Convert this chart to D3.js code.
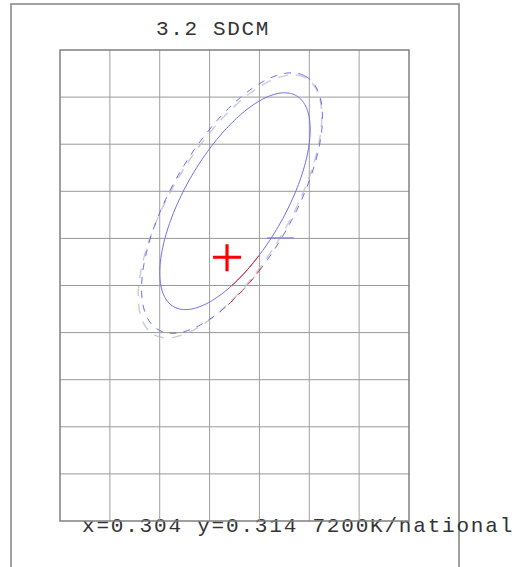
<!DOCTYPE html>
<html>
<head>
<meta charset="utf-8">
<script src="https://cdn.jsdelivr.net/npm/d3@7/dist/d3.min.js"></script>
<style>
  html, body { margin: 0; padding: 0; background: #ffffff; }
  svg { display: block; }
</style>
</head>
<body>
<svg></svg>
<script>
const WIDTH = 525;
const HEIGHT = 567;

const TITLE = "3.2 SDCM";
const CAPTION = "x=0.304 y=0.314 7200K/national";

// grid lines (CIE 1931 x, y)
const X_GRID = [0.30065, 0.30165, 0.30265, 0.30365, 0.30465, 0.30565, 0.30665, 0.30765];
const Y_GRID = [0.3084, 0.3094, 0.3104, 0.3114, 0.3124, 0.3134, 0.3144, 0.3154, 0.3164, 0.3174, 0.3184];

// measured chromaticity
const POINT = [0.304, 0.314];

// ellipses: outer (grey dashed), tolerance (blue dashed), inner (blue solid)
const ELLIPSE_NAMES = ["outer", "tolerance", "inner"];
const ELLIPSE_CX = [0.30406, 0.30410, 0.30416];
const ELLIPSE_CY = [0.31508, 0.31515, 0.31519];
const ELLIPSE_A = [0.00312, 0.00307, 0.002556];
const ELLIPSE_B = [0.00120, 0.00123, 0.00102];
const ELLIPSE_ANGLE = [61, 61.7, 61.7];

// part of each ellipse facing the point (angle from centre, degrees)
const NEAR_ARC = [-93, -66];

// stray horizontal stroke right of the point
const STRAY_X = [0.30480, 0.30534];
const STRAY_Y = [0.31441, 0.31441];

const FONT = "'Liberation Mono', 'Courier New', monospace";

function ellipsePoints(i) {
    const th = ELLIPSE_ANGLE[i] * Math.PI / 180;
    const pts = [];
    for (let k = 0; k <= 240; k++) {
        const t = k / 240 * 2 * Math.PI;
        const u = ELLIPSE_A[i] * Math.cos(t), v = ELLIPSE_B[i] * Math.sin(t);
        const px = ELLIPSE_CX[i] + u * Math.cos(th) - v * Math.sin(th);
        const py = ELLIPSE_CY[i] + u * Math.sin(th) + v * Math.cos(th);
        const ang = Math.atan2(py - ELLIPSE_CY[i], px - ELLIPSE_CX[i]) * 180 / Math.PI;
        pts.push({ x: px, y: py, near: ang >= NEAR_ARC[0] && ang <= NEAR_ARC[1] });
    }
    return pts;
}

function drawChart(svg) {
    svg.attr("width", WIDTH).attr("height", HEIGHT);

    const x = d3.scaleLinear()
        .domain([X_GRID[0], X_GRID[X_GRID.length - 1]])
        .range([60, 409]);
    const y = d3.scaleLinear()
        .domain([Y_GRID[0], Y_GRID[Y_GRID.length - 1]])
        .range([521, 50]);

    // outer frame
    svg.append("rect")
        .attr("x", 11).attr("y", 4)
        .attr("width", 448).attr("height", 600)
        .style("fill", "none")
        .style("stroke", "#8a8a8a")
        .style("stroke-width", "1.6px");

    svg.append("text")
        .attr("x", 156).attr("y", 34.5)
        .style("font-family", FONT)
        .style("font-size", "21px")
        .style("letter-spacing", "1.65px")
        .style("fill", "#333")
        .text(TITLE);

    svg.append("text")
        .attr("x", 82).attr("y", 532)
        .style("font-family", FONT)
        .style("font-size", "21px")
        .style("letter-spacing", "1.8px")
        .style("fill", "#333")
        .text(CAPTION);

    const grid = svg.append("g");
    grid.selectAll("line.v")
        .data(X_GRID.slice(1, -1))
        .enter().append("line")
        .attr("class", "v")
        .attr("x1", d => x(d)).attr("x2", d => x(d))
        .attr("y1", y.range()[0]).attr("y2", y.range()[1])
        .style("stroke", "#a0a0a0").style("stroke-width", "1px");
    grid.selectAll("line.h")
        .data(Y_GRID.slice(1, -1))
        .enter().append("line")
        .attr("class", "h")
        .attr("y1", d => y(d)).attr("y2", d => y(d))
        .attr("x1", x.range()[0]).attr("x2", x.range()[1])
        .style("stroke", "#999").style("stroke-width", "1px");
    grid.append("rect")
        .attr("x", x.range()[0]).attr("y", y.range()[1])
        .attr("width", x.range()[1] - x.range()[0])
        .attr("height", y.range()[0] - y.range()[1])
        .style("fill", "none")
        .style("stroke", "#808080")
        .style("stroke-width", "1.5px");

    const line = d3.line().x(d => x(d.x)).y(d => y(d.y));
    const styles = [
        { stroke: "#b8b8c4", dash: "10,8", width: 1.4, opacity: 0.75 },
        { stroke: "#5a5af0", dash: "7,7", width: 1, opacity: 0.9 },
        { stroke: "#6e6ee6", dash: null, width: 1, opacity: 1 }
    ];

    ELLIPSE_NAMES.forEach((name, i) => {
        const pts = ellipsePoints(i);
        const s = styles[i];
        svg.append("path")
            .datum(pts)
            .attr("class", "ellipse " + name)
            .attr("d", line)
            .style("fill", "none")
            .style("stroke", s.stroke)
            .style("stroke-width", s.width + "px")
            .style("stroke-dasharray", s.dash)
            .style("opacity", s.opacity);
        if (name === "outer") return;
        svg.append("path")
            .datum(pts)
            .attr("d", line.defined(d => d.near))
            .style("fill", "none")
            .style("stroke", "#ee2222")
            .style("stroke-width", "1px")
            .style("stroke-dasharray", s.dash);
        line.defined(() => true);
    });

    svg.append("line")
        .attr("x1", x(STRAY_X[0])).attr("x2", x(STRAY_X[1]))
        .attr("y1", y(STRAY_Y[0])).attr("y2", y(STRAY_Y[1]))
        .style("stroke", "#7070ee").style("stroke-width", "1px");

    // measured point
    const cx = x(POINT[0]), cy = y(POINT[1]);
    svg.append("path")
        .attr("d", `M${cx - 14},${cy}H${cx + 14}M${cx},${cy - 13}V${cy + 14}`)
        .style("stroke", "#ff0000")
        .style("stroke-width", "3.2px")
        .style("fill", "none");
}

function onReady() {
    drawChart(d3.select("svg"));
}

document.addEventListener("DOMContentLoaded", onReady);
</script>
</body>
</html>
